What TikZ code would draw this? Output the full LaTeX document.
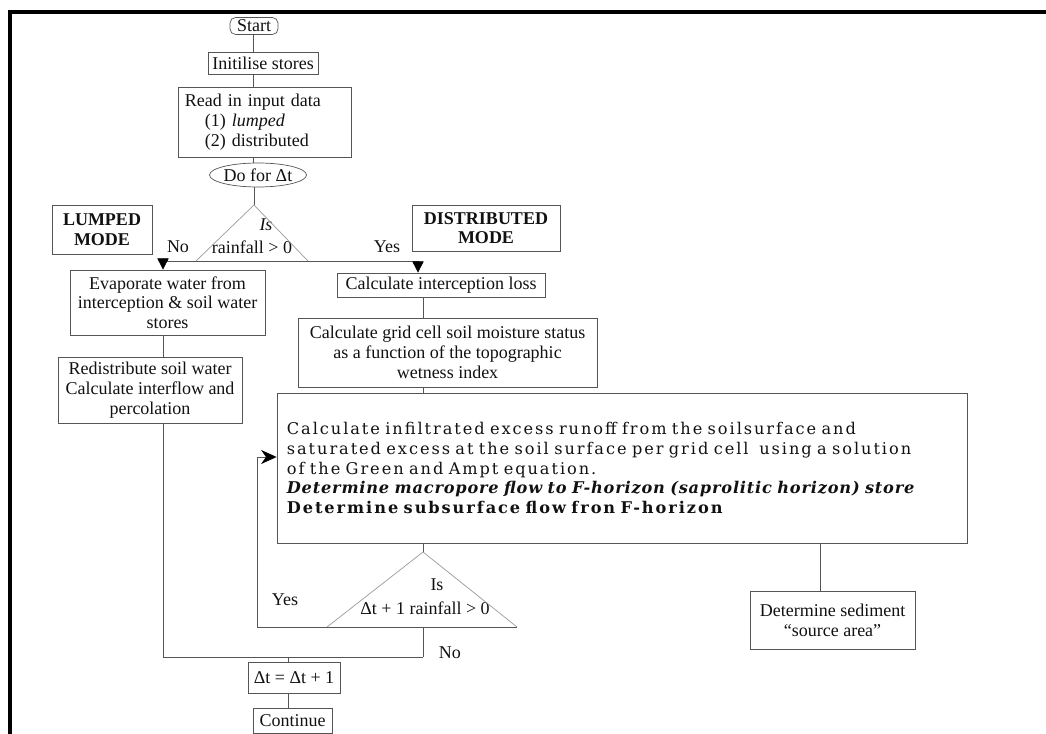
\documentclass[tikz,border=0pt]{standalone}
\usepackage{fontspec}
\setmainfont{Liberation Serif}
\newfontfamily\runofffont[LetterSpace=12]{DejaVu Serif}
\usetikzlibrary{arrows.meta, shapes.geometric}
\definecolor{inkline}{HTML}{555555}
\definecolor{inkfaint}{HTML}{9A9A9A}
\definecolor{inktext}{HTML}{111111}

\begin{document}
\begin{tikzpicture}[x=0.025cm, y=-0.025cm, text=inktext,
    font=\fontsize{12.8}{14}\selectfont,
    stepbox/.style={draw=inkline, line width=0.5pt, align=center, inner sep=0pt},
    modebox/.style={stepbox, font=\fontsize{12.8}{14}\selectfont\bfseries},
    link/.style={draw=inkline, line width=0.5pt},
    faint/.style={draw=inkfaint, line width=0.5pt},
    tri/.style={-{Triangle[width=8pt, length=8pt, color=black]}},
    back/.style={-{Stealth[width=10pt, length=11pt, inset=3.5pt, color=black]}}]
  \useasboundingbox (0,0) rectangle (1046,734);
  \draw[line width=2.2pt, line cap=rect] (1046,12) -- (10,12) -- (10,734);

  \node[stepbox, rounded corners=4pt, minimum width=1.2cm, minimum height=0.425cm] (start) at (254,26) {Start};
  \node[stepbox, minimum width=2.75cm, minimum height=0.55cm] (init) at (263,63) {Initilise stores};
  \node[stepbox, minimum width=4.325cm, minimum height=1.75cm, text width=3.975cm, align=left] (readin) at (264.5,122)
    {Read in input data\\\hspace*{1.1em}(1) \textit{lumped}\\\hspace*{1.1em}(2) distributed};
  \node[stepbox, ellipse, minimum width=2.3cm, minimum height=0.6cm] (doloop) at (258,175) {Do for Δt};

  \node[modebox, minimum width=2.5cm, minimum height=1.225cm] (lumped) at (102,230) {LUMPED\\MODE};
  \node[modebox, minimum width=3.7cm, minimum height=1.15cm] (distr) at (486,228) {DISTRIBUTED\\MODE};

  \coordinate (d1) at (254,205);
  \coordinate (lsplit) at (163,261);
  \coordinate (rsplit) at (418,261);
  \node (d1is) at (266,225) {\textit{Is}};
  \node (d1txt) at (252,247) {rainfall > 0};
  \node (nolbl) at (178,247) {No};
  \node (yeslbl) at (387,247) {Yes};

  \node[stepbox, minimum width=4.875cm, minimum height=1.625cm] (evap) at (167.5,302.5)
    {Evaporate water from\\interception \& soil water\\stores};
  \node[stepbox, minimum width=4.6cm, minimum height=1.65cm] (redis) at (150,390)
    {Redistribute soil water\\Calculate interflow and\\percolation};
  \node[stepbox, minimum width=5.2cm, minimum height=0.6cm] (icept) at (441,285) {Calculate interception loss};
  \node[stepbox, minimum width=7.475cm, minimum height=1.725cm] (moist) at (447.5,352.5)
    {Calculate grid cell soil moisture status\\as a function of the topographic\\wetness index};
  \node[stepbox, minimum width=17.25cm, minimum height=3.75cm, text width=16.75cm, align=left,
        font=\runofffont\fontsize{11.5}{14}\selectfont] (runoff) at (622,468)
    {Calculate infiltrated excess runoff from the soilsurface and\\
     saturated excess at the soil surface per grid cell\ \ using a solution\\
     of the Green and Ampt equation.\\
     \mbox{\addfontfeatures{LetterSpace=5}\bfseries\itshape Determine macropore flow to F-horizon (saprolitic horizon) store}\\
     \textbf{Determine subsurface flow fron F-horizon}\\[20pt]};
  \node[stepbox, minimum width=4.125cm, minimum height=1.45cm] (sediment) at (832.5,620)
    {Determine sediment\\``source area''};

  \coordinate (rcol) at (423,0);
  \coordinate (sedcol) at (820,0);
  \coordinate (d2) at (423,552);
  \coordinate (fbbase) at (257,627);
  \coordinate (fbtop) at (257,457);
  \coordinate (ljoin) at (163,657);
  \coordinate (njoin) at (423,657);
  \coordinate (sjoin) at (288,657);
  \node (d2is) at (437,585) {Is};
  \node (d2txt) at (425,608) {Δt + 1 rainfall > 0};
  \node (yes2) at (285,600) {Yes};
  \node[anchor=west] (no2) at (434,653) {No};

  \node[stepbox, minimum width=2.3cm, minimum height=0.775cm] (step) at (294,677.5) {Δt = Δt + 1};
  \node[stepbox, minimum width=1.975cm, minimum height=0.625cm] (cont) at (292.5,720.5) {Continue};

  \draw[link] (start.south -| 253,0) -- (253,0 |- init.north);
  \draw[link] (init.south -| 253,0) -- (253,0 |- readin.north);
  \draw[link] (readin.south -| 253,0) -- (253,0 |- doloop.north);
  \draw[link] (doloop.south -| d1) -- (d1);
  \draw[faint] (196,261) -- (d1) -- (308,261);
  \draw[link] (lsplit) -- (rsplit);
  \draw[link, tri] (lsplit) -- (lsplit |- evap.north);
  \draw[link, tri] (rsplit) -- (rsplit |- icept.north);

  \draw[link] (lsplit |- evap.south) -- (lsplit |- redis.north);
  \draw[link] (lsplit |- redis.south) -- (ljoin) -- (njoin);
  \draw[link] (icept.south -| rcol) -- (moist.north -| rcol);
  \draw[link] (moist.south -| rcol) -- (runoff.north -| rcol);
  \draw[link] (runoff.south -| rcol) -- (d2);
  \draw[link] (runoff.south -| sedcol) -- (sediment.north -| sedcol);

  \draw[faint] (327,627) -- (d2) -- (517,627);
  \draw[link] (fbbase) -- (517,627);
  \draw[link, back] (fbbase) -- (fbtop) -- (fbtop -| runoff.west);
  \draw[link] (fbbase -| njoin) -- (njoin);
  \draw[link] (sjoin) -- (sjoin |- step.north);
  \draw[link] (sjoin |- step.south) -- (sjoin |- cont.north);
\end{tikzpicture}
\end{document}
